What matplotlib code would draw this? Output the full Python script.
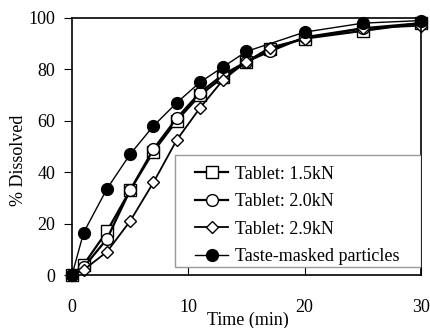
import matplotlib.pyplot as plt
from matplotlib.patches import Rectangle

plt.rcParams['font.family'] = ['Liberation Serif', 'DejaVu Serif']
plt.rcParams['font.size'] = 13

time_tab = [0, 1, 3, 5, 7, 9, 11, 13, 15, 17, 20, 25, 30]
tab_15 = [0, 4, 17, 33, 48, 60, 70, 77, 83, 88, 92, 95, 98]
tab_20 = [0, 3, 14, 33, 49, 61, 71, 78, 83, 87, 92.5, 96, 98]
tab_29 = [0, 2, 9, 21, 36, 52.5, 65, 76, 83, 88.5, 92, 96, 97]

time_tm = [0, 1, 3, 5, 7, 9, 11, 13, 15, 20, 25, 30]
taste_masked = [0, 16.5, 33.5, 47, 58, 67, 75, 81, 87, 94.5, 98, 99]

fig = plt.figure(figsize=(4.31, 3.28), dpi=100)
ax = fig.add_axes([72 / 431, 53 / 328, 349 / 431, 257 / 328])

ax.plot(time_tab, tab_15, '-s', color='black', lw=1.6, ms=8, mfc='white', mec='black', mew=1, label='Tablet: 1.5kN')
ax.plot(time_tab, tab_20, '-o', color='black', lw=1.6, ms=8.5, mfc='white', mec='black', mew=1, label='Tablet: 2.0kN')
ax.plot(time_tab, tab_29, '-D', color='black', lw=1.3, ms=6.5, mfc='white', mec='black', mew=1, label='Tablet: 2.9kN')
ax.plot(time_tm, taste_masked, '-o', color='black', lw=1.0, ms=8.5, mfc='black', mec='black', label='Taste-masked particles')

ax.set_xlim(0, 30)
ax.set_ylim(0, 100)
ax.set_xticks([0, 10, 20, 30])
ax.set_yticks([0, 20, 40, 60, 80, 100])
ax.tick_params(axis='x', direction='in', length=6, pad=17)
ax.tick_params(axis='y', direction='out', length=6, pad=6)
for s in ax.spines.values():
    s.set_linewidth(1.2)
for ln in ax.lines:
    ln.set_clip_on(False)

ax.set_xlabel('Time (min)')
ax.xaxis.set_label_coords(0.504, -0.144)
ax.set_ylabel('% Dissolved')
ax.yaxis.set_label_coords(-0.129, 0.447)

# legend box drawn by hand: wider side padding than top/bottom
ax.add_patch(Rectangle((0.295, 0.031), 0.705, 0.436, transform=ax.transAxes,
                       facecolor='white', edgecolor='#999999', lw=1.0, zorder=4))
leg = ax.legend(loc='upper left', bbox_to_anchor=(0.352, 0.425), borderaxespad=0,
                borderpad=0, frameon=False,
                handlelength=1.85, handletextpad=0.4, labelspacing=0.58)
leg.set_zorder(5)

fig.savefig('out.png', dpi=100)
